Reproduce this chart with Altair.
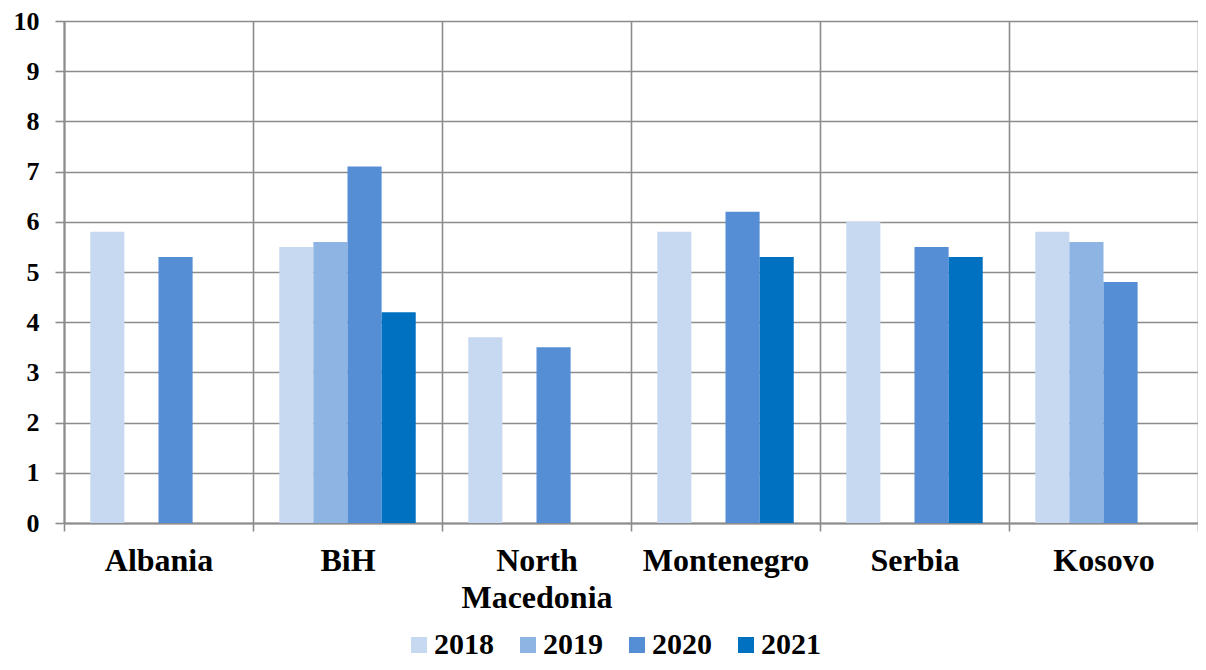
import altair as alt
import pandas as pd

countries = ["Albania", "BiH", "North Macedonia", "Montenegro", "Serbia", "Kosovo"]
years = ["2018", "2019", "2020", "2021"]
v2018 = [5.8, 5.5, 3.7, 5.8, 6.0, 5.8]
v2019 = [None, 5.6, None, None, None, 5.6]
v2020 = [5.3, 7.1, 3.5, 6.2, 5.5, 4.8]
v2021 = [None, 4.2, None, 5.3, 5.3, None]
colors = ["#C6D9F1", "#8EB4E3", "#558ED5", "#0070C0"]
y_ticks = list(range(0, 11))

rows = []
for yr, vals in zip(years, [v2018, v2019, v2020, v2021]):
    for c, v in zip(countries, vals):
        if v is not None:
            rows.append({"country": c, "year": yr, "value": v})
df = pd.DataFrame(rows)

FONT = "Liberation Serif"
GRID = "#8c8c8c"

chart = alt.Chart(df).mark_bar().encode(
    x=alt.X(
        "country:N",
        scale=alt.Scale(domain=countries, paddingInner=0, paddingOuter=0),
        axis=alt.Axis(
            title=None,
            labelAngle=0,
            labelFont=FONT,
            labelFontSize=32,
            labelFontWeight="bold",
            labelColor="black",
            labelExpr="datum.label == 'North Macedonia' ? ['North', 'Macedonia'] : datum.label",
            labelLineHeight=37,
            labelPadding=14,
            tickBand="extent",
            grid=True,
            gridColor=GRID,
            gridWidth=1.6,
            ticks=True,
            tickSize=8,
            tickColor=GRID,
            tickWidth=1.6,
            domain=True,
            domainColor=GRID,
            domainWidth=2,
        ),
    ),
    xOffset=alt.XOffset(
        "year:N",
        scale=alt.Scale(domain=years, paddingInner=0, paddingOuter=0.77),
    ),
    y=alt.Y(
        "value:Q",
        scale=alt.Scale(domain=[0, 10], nice=False),
        axis=alt.Axis(
            title=None,
            values=y_ticks,
            labelFont=FONT,
            labelFontSize=26,
            labelFontWeight="bold",
            labelColor="black",
            labelPadding=16,
            grid=True,
            gridColor=GRID,
            gridWidth=1.6,
            ticks=True,
            tickSize=9,
            tickColor=GRID,
            tickWidth=1.6,
            domain=True,
            domainColor=GRID,
            domainWidth=2,
        ),
    ),
    color=alt.Color(
        "year:N",
        scale=alt.Scale(domain=years, range=colors),
        legend=alt.Legend(
            title=None,
            orient="none",
            legendX=340,
            legendY=609,
            direction="horizontal",
            symbolType="square",
            symbolSize=256,
            symbolStrokeWidth=0,
            labelFont=FONT,
            labelFontSize=30,
            labelFontWeight="bold",
            labelColor="black",
            labelOffset=0,
            columnPadding=19,
            padding=0,
        ),
    ),
).properties(
    width=1134,
    height=502,
    autosize=alt.AutoSizeParams(type="none"),
    padding={"left": 56, "top": 13, "right": 0, "bottom": 139},
).configure_view(stroke=None)

chart.save("out.html", embed_options={"renderer": "svg", "actions": False})
